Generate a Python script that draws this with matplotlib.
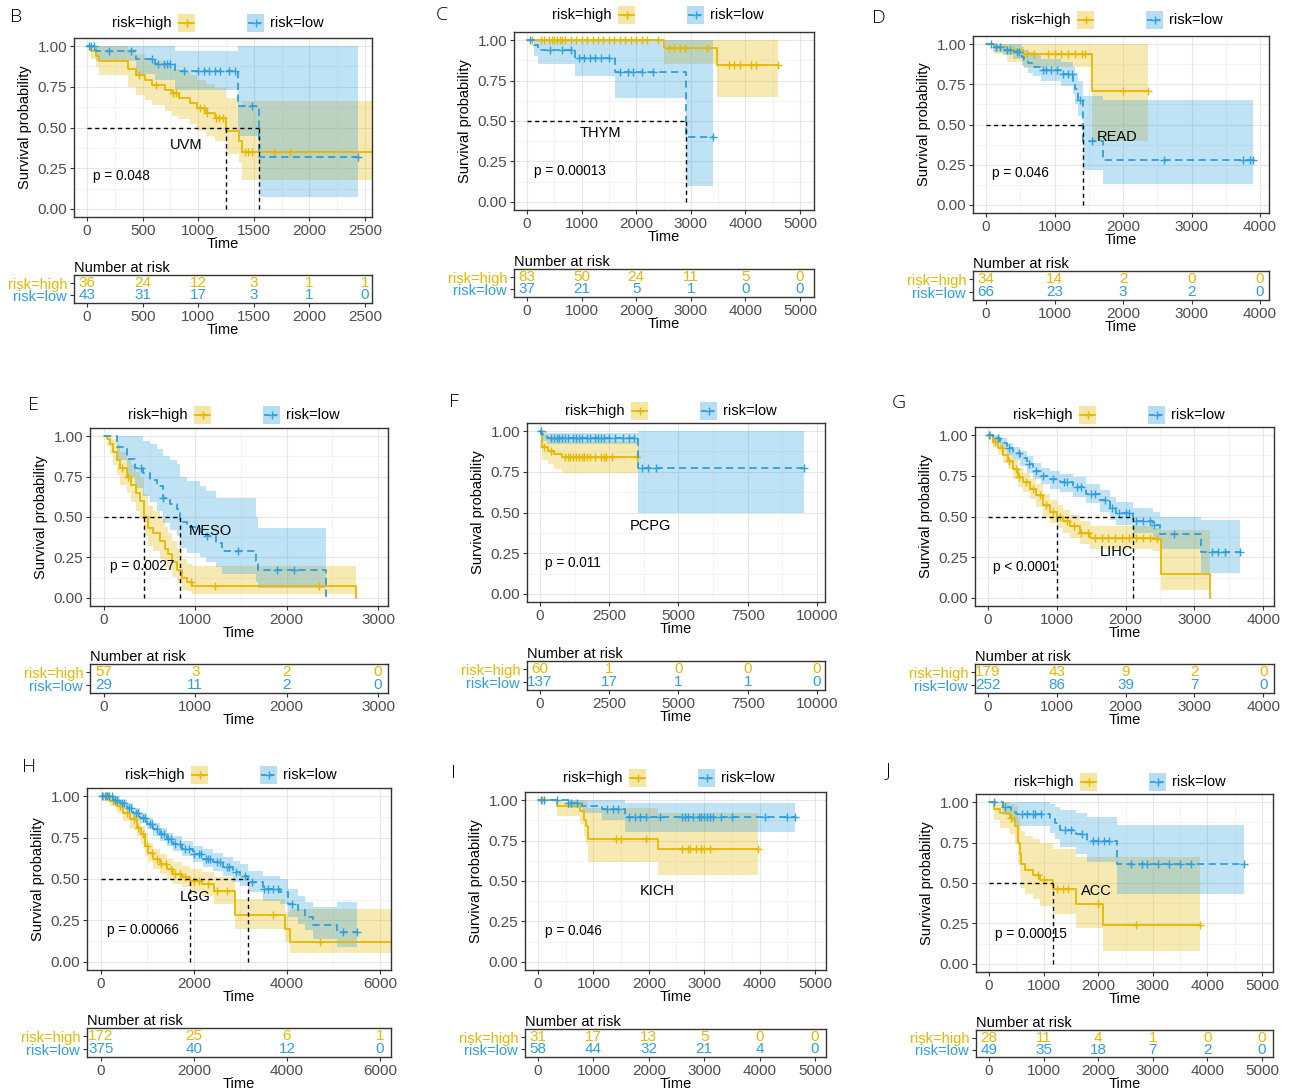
import numpy as np
import matplotlib
matplotlib.use("Agg")
import matplotlib.pyplot as plt
from matplotlib.patches import Rectangle

plt.rcParams['font.family'] = ['Liberation Sans', 'DejaVu Sans']

HIGH = "#E7B800"
LOW = "#2E9FDF"

# ---------------- data ----------------
# B  UVM
B_high_t = [0, 40, 80, 110, 370, 440, 520, 580, 700, 760, 830, 930, 990, 1070, 1150, 1250, 1370, 1390]
B_high_s = [1.0, 0.97, 0.94, 0.91, 0.86, 0.82, 0.79, 0.76, 0.73, 0.71, 0.68, 0.65, 0.62, 0.59, 0.56, 0.48, 0.42, 0.35]
B_high_lo = [1.0, 0.92, 0.87, 0.82, 0.75, 0.70, 0.67, 0.64, 0.60, 0.57, 0.55, 0.52, 0.48, 0.45, 0.42, 0.34, 0.28, 0.18]
B_high_up = [1.0, 1.0, 1.0, 1.0, 0.98, 0.95, 0.93, 0.91, 0.88, 0.86, 0.84, 0.82, 0.79, 0.77, 0.74, 0.68, 0.63, 0.66]
B_high_end = 2600
B_high_cens = [470, 620, 770, 800, 1020, 1050, 1080, 1160, 1190, 1220, 1420, 1450, 1480, 1680, 1830, 2600]
B_low_t = [0, 84, 444, 610, 790, 1360, 1545]
B_low_s = [1.0, 0.97, 0.92, 0.89, 0.845, 0.635, 0.32]
B_low_lo = [1.0, 0.91, 0.83, 0.79, 0.73, 0.45, 0.07]
B_low_up = [1.0, 1.0, 1.0, 1.0, 0.97, 1.0, 1.0]
B_low_end = 2440
B_low_cens = [20, 40, 60, 200, 400, 580, 640, 690, 720, 750, 870, 1000, 1050, 1100, 1150, 1200, 1280, 1330, 1480, 2440]
B_breaks = [0, 500, 1000, 1500, 2000, 2500]
B_risk_high = [36, 24, 12, 3, 1, 1]
B_risk_low = [43, 31, 17, 3, 1, 0]

# C  THYM
C_high_t = [0, 2500, 3475]
C_high_s = [1.0, 0.949, 0.844]
C_high_lo = [1.0, 0.85, 0.65]
C_high_up = [1.0, 1.0, 1.0]
C_high_end = 4600
C_high_cens = [100, 250, 320, 400, 450, 500, 550, 600, 650, 700, 800, 900, 1000, 1100, 1200, 1300, 1400,
               1500, 1600, 1700, 1800, 1900, 2000, 2100, 2200, 2400, 2600, 2700, 2800, 2900, 3300,
               3700, 3800, 3900, 4100, 4200, 4600]
C_low_t = [0, 120, 200, 880, 1615, 2915]
C_low_s = [1.0, 0.97, 0.94, 0.89, 0.805, 0.40]
C_low_lo = [1.0, 0.90, 0.85, 0.78, 0.64, 0.10]
C_low_up = [1.0, 1.0, 1.0, 1.0, 1.0, 1.0]
C_low_end = 3415
C_low_cens = [50, 420, 650, 800, 950, 1050, 1150, 1250, 1350, 1500, 1700, 1850, 1950, 2100, 2300, 3415]
C_breaks = [0, 1000, 2000, 3000, 4000, 5000]
C_risk_high = [83, 50, 24, 11, 5, 0]
C_risk_low = [37, 21, 5, 1, 0, 0]

# D  READ
D_high_t = [0, 110, 300, 545, 1545]
D_high_s = [1.0, 0.98, 0.96, 0.94, 0.707]
D_high_lo = [1.0, 0.94, 0.89, 0.86, 0.40]
D_high_up = [1.0, 1.0, 1.0, 1.0, 1.0]
D_high_end = 2370
D_high_cens = [200, 400, 600, 700, 900, 1000, 1100, 1200, 1300, 1400, 1450, 2000, 2370]
D_low_t = [0, 100, 250, 400, 520, 560, 620, 690, 800, 1100, 1270, 1300, 1340, 1410, 1715]
D_low_s = [1.0, 0.98, 0.965, 0.95, 0.92, 0.90, 0.88, 0.86, 0.84, 0.815, 0.77, 0.72, 0.65, 0.40, 0.28]
D_low_lo = [1.0, 0.95, 0.93, 0.91, 0.87, 0.85, 0.82, 0.80, 0.77, 0.74, 0.69, 0.63, 0.55, 0.22, 0.13]
D_low_up = [1.0, 1.0, 1.0, 1.0, 0.98, 0.96, 0.95, 0.93, 0.91, 0.89, 0.86, 0.82, 0.77, 0.68, 0.65]
D_low_end = 3900
D_low_cens = [80, 150, 200, 300, 350, 450, 480, 830, 880, 950, 1030, 1120, 1200, 1250, 1370, 1540,
              2600, 3750, 3850, 3900]
D_breaks = [0, 1000, 2000, 3000, 4000]
D_risk_high = [34, 14, 2, 0, 0]
D_risk_low = [66, 23, 3, 2, 0]

# E  MESO
E_high_t = [0, 30, 65, 100, 140, 175, 250, 300, 355, 395, 440, 485, 540, 610, 665, 705, 740, 795, 850, 905, 960, 2760]
E_high_s = [1.0, 0.98, 0.95, 0.90, 0.85, 0.80, 0.75, 0.70, 0.65, 0.60, 0.50, 0.43, 0.40, 0.35, 0.30, 0.27,
            0.22, 0.17, 0.12, 0.10, 0.075, 0.0]
E_high_lo = [1.0, 0.94, 0.89, 0.82, 0.76, 0.70, 0.65, 0.59, 0.54, 0.49, 0.38, 0.32, 0.29, 0.24, 0.20, 0.17,
             0.13, 0.09, 0.05, 0.04, 0.025, 0.0]
E_high_up = [1.0, 1.0, 1.0, 0.98, 0.95, 0.90, 0.86, 0.82, 0.78, 0.74, 0.64, 0.57, 0.54, 0.49, 0.44, 0.40,
             0.35, 0.30, 0.24, 0.21, 0.20, 0.0]
E_high_end = 2760
E_high_cens = [200, 260, 950, 1220, 2350]
E_low_t = [0, 140, 250, 340, 430, 500, 580, 650, 720, 795, 830, 905, 1050, 1120, 1230, 1290, 1660, 1690, 2430]
E_low_s = [1.0, 0.93, 0.86, 0.80, 0.77, 0.73, 0.69, 0.62, 0.58, 0.55, 0.47, 0.44, 0.41, 0.38, 0.34, 0.29,
           0.23, 0.17, 0.0]
E_low_lo = [1.0, 0.85, 0.75, 0.68, 0.63, 0.59, 0.54, 0.46, 0.42, 0.38, 0.31, 0.28, 0.25, 0.22, 0.19, 0.15,
            0.10, 0.06, 0.0]
E_low_up = [1.0, 1.0, 1.0, 1.0, 0.97, 0.95, 0.92, 0.88, 0.85, 0.83, 0.75, 0.72, 0.69, 0.66, 0.62, 0.62,
            0.50, 0.43, 0.0]
E_low_end = 2430
E_low_cens = [400, 650, 1130, 1470, 1900, 2080]
E_breaks = [0, 1000, 2000, 3000]
E_risk_high = [57, 3, 2, 0]
E_risk_low = [29, 11, 2, 0]

# F  PCPG
F_high_t = [0, 60, 300, 500, 780]
F_high_s = [1.0, 0.90, 0.88, 0.86, 0.84]
F_high_lo = [1.0, 0.82, 0.80, 0.77, 0.74]
F_high_up = [1.0, 0.98, 0.97, 0.95, 0.94]
F_high_end = 3560
F_high_cens = [150, 400, 900, 1000, 1100, 1200, 1300, 1400, 1500, 1600, 1700, 1800, 2000, 2200, 2300,
               2400, 2600, 3500]
F_low_t = [0, 50, 120, 250, 3520]
F_low_s = [1.0, 0.985, 0.97, 0.958, 0.774]
F_low_lo = [1.0, 0.96, 0.94, 0.92, 0.50]
F_low_up = [1.0, 1.0, 1.0, 0.99, 1.0]
F_low_end = 9520
F_low_cens = [30, 400, 500, 600, 700, 800, 900, 1000, 1200, 1300, 1400, 1500, 1700, 1800, 2000, 2100,
              2200, 2300, 2500, 2700, 3000, 3200, 3400, 3700, 3900, 4200, 9520]
F_breaks = [0, 2500, 5000, 7500, 10000]
F_risk_high = [60, 1, 0, 0, 0]
F_risk_low = [137, 17, 1, 1, 0]

# G  LIHC
G_high_t = [0, 70, 145, 220, 290, 365, 435, 510, 605, 700, 800, 900, 1000, 1090, 1190, 1330, 1480, 2400, 2520, 3225]
G_high_s = [1.0, 0.96, 0.92, 0.88, 0.84, 0.79, 0.74, 0.71, 0.67, 0.63, 0.57, 0.53, 0.50, 0.47, 0.44, 0.40,
            0.37, 0.36, 0.145, 0.0]
G_high_lo = [1.0, 0.93, 0.88, 0.83, 0.79, 0.73, 0.68, 0.65, 0.61, 0.56, 0.50, 0.46, 0.43, 0.40, 0.37, 0.33,
             0.30, 0.29, 0.05, 0.0]
G_high_up = [1.0, 0.99, 0.96, 0.92, 0.89, 0.85, 0.80, 0.77, 0.73, 0.70, 0.64, 0.60, 0.57, 0.54, 0.51, 0.47,
             0.44, 0.43, 0.42, 0.0]
G_high_end = 3225
G_high_cens = [30, 100, 200, 300, 400, 450, 550, 650, 750, 850, 950, 1050, 1150, 1250, 1350, 1450, 1550,
               1650, 1750, 1850, 1950, 2050, 2150, 2250, 2350, 2450]
G_low_t = [0, 70, 170, 270, 365, 460, 560, 655, 775, 900, 1040, 1235, 1430, 1625, 1770, 1865, 2110, 2400, 2500, 3100]
G_low_s = [1.0, 0.98, 0.95, 0.92, 0.89, 0.86, 0.82, 0.78, 0.75, 0.73, 0.71, 0.68, 0.64, 0.60, 0.55, 0.52,
           0.47, 0.45, 0.39, 0.28]
G_low_lo = [1.0, 0.96, 0.92, 0.88, 0.85, 0.81, 0.77, 0.73, 0.70, 0.67, 0.65, 0.62, 0.58, 0.53, 0.48, 0.45,
            0.40, 0.37, 0.30, 0.15]
G_low_up = [1.0, 1.0, 0.98, 0.95, 0.93, 0.90, 0.87, 0.83, 0.80, 0.78, 0.76, 0.74, 0.70, 0.66, 0.62, 0.59,
            0.55, 0.53, 0.50, 0.48]
G_low_end = 3660
G_low_cens = [20, 150, 300, 450, 600, 700, 800, 950, 1100, 1150, 1300, 1350, 1500, 1550, 1700, 1800, 1900,
              2000, 2050, 2150, 2250, 2350, 2420, 2700, 3250, 3350, 3450, 3660]
G_breaks = [0, 1000, 2000, 3000, 4000]
G_risk_high = [179, 43, 9, 2, 0]
G_risk_low = [252, 86, 39, 7, 0]

# H  LGG
H_high_t = [0, 190, 340, 480, 620, 770, 870, 950, 1020, 1125, 1270, 1410, 1555, 1735, 1910, 2165, 2420, 2880, 3960, 4070]
H_high_s = [1.0, 0.97, 0.94, 0.90, 0.86, 0.81, 0.77, 0.70, 0.66, 0.62, 0.59, 0.56, 0.53, 0.51, 0.49, 0.47,
            0.43, 0.285, 0.20, 0.12]
H_high_lo = [1.0, 0.94, 0.90, 0.85, 0.81, 0.76, 0.71, 0.64, 0.60, 0.56, 0.53, 0.50, 0.47, 0.45, 0.42, 0.40,
             0.35, 0.20, 0.12, 0.05]
H_high_up = [1.0, 0.99, 0.97, 0.94, 0.90, 0.86, 0.82, 0.76, 0.72, 0.68, 0.65, 0.62, 0.60, 0.58, 0.56, 0.54,
             0.51, 0.38, 0.30, 0.32]
H_high_end = 6400
H_high_cens = [50, 100, 150, 250, 300, 400, 550, 700, 800, 900, 1000, 1100, 1200, 1300, 1400, 1500, 1600,
               1700, 1800, 2000, 2100, 2300, 2500, 2700, 3700, 4700, 6400]
H_low_t = [0, 265, 410, 550, 695, 840, 980, 1125, 1270, 1410, 1555, 1735, 1985, 2200, 2415, 2630, 2845,
           2990, 3170, 3490, 3850, 4030, 4245, 4390, 4565, 5070]
H_low_s = [1.0, 0.98, 0.96, 0.93, 0.90, 0.87, 0.83, 0.80, 0.77, 0.74, 0.71, 0.68, 0.65, 0.62, 0.60, 0.57,
           0.54, 0.52, 0.48, 0.44, 0.42, 0.35, 0.31, 0.27, 0.22, 0.18]
H_low_lo = [1.0, 0.96, 0.94, 0.91, 0.87, 0.84, 0.80, 0.76, 0.73, 0.70, 0.67, 0.64, 0.60, 0.57, 0.55, 0.52,
            0.48, 0.46, 0.42, 0.37, 0.35, 0.27, 0.23, 0.19, 0.14, 0.09]
H_low_up = [1.0, 1.0, 0.98, 0.96, 0.93, 0.90, 0.87, 0.84, 0.81, 0.78, 0.76, 0.73, 0.70, 0.68, 0.66, 0.63,
            0.61, 0.59, 0.55, 0.52, 0.50, 0.44, 0.40, 0.36, 0.33, 0.36]
H_low_end = 5500
H_low_cens = [30, 80, 130, 180, 230, 300, 350, 450, 500, 600, 650, 750, 800, 900, 950, 1050, 1100, 1200,
              1300, 1350, 1450, 1500, 1600, 1700, 1800, 1900, 2000, 2100, 2150, 2250, 2300, 2350, 2500,
              2550, 2700, 2750, 2900, 3100, 3250, 3500, 3600, 3700, 3800, 4100, 5200, 5500]
H_breaks = [0, 2000, 4000, 6000]
H_risk_high = [172, 25, 6, 1]
H_risk_low = [375, 40, 12, 0]

# I  KICH
I_high_t = [0, 340, 760, 830, 870, 910, 2165]
I_high_s = [1.0, 0.965, 0.93, 0.88, 0.84, 0.76, 0.70]
I_high_lo = [1.0, 0.90, 0.85, 0.78, 0.73, 0.62, 0.54]
I_high_up = [1.0, 1.0, 1.0, 1.0, 0.99, 0.95, 0.92]
I_high_end = 3980
I_high_cens = [80, 1400, 1500, 1950, 2600, 2700, 2750, 2850, 2950, 3000, 3100, 3980]
I_low_t = [0, 550, 800, 1150, 1575]
I_low_s = [1.0, 0.983, 0.965, 0.945, 0.898]
I_low_lo = [1.0, 0.95, 0.92, 0.88, 0.805]
I_low_up = [1.0, 1.0, 1.0, 1.0, 0.98]
I_low_end = 4640
I_low_cens = [60, 100, 350, 550, 600, 700, 1250, 1350, 1450, 1650, 1750, 1850, 1950, 2200, 2600, 2650,
              2700, 2800, 2900, 2950, 3000, 3050, 3100, 3150, 3300, 3500, 4100, 4500, 4640]
I_breaks = [0, 1000, 2000, 3000, 4000, 5000]
I_risk_high = [31, 17, 13, 5, 0, 0]
I_risk_low = [58, 44, 32, 21, 4, 0]

# J  ACC
J_high_t = [0, 100, 200, 380, 470, 530, 565, 595, 655, 810, 930, 1180, 1600, 2080]
J_high_s = [1.0, 0.96, 0.93, 0.90, 0.85, 0.75, 0.68, 0.62, 0.58, 0.55, 0.52, 0.46, 0.37, 0.24]
J_high_lo = [1.0, 0.89, 0.84, 0.80, 0.74, 0.62, 0.54, 0.47, 0.43, 0.40, 0.36, 0.31, 0.22, 0.08]
J_high_up = [1.0, 1.0, 1.0, 0.99, 0.97, 0.91, 0.86, 0.82, 0.79, 0.77, 0.75, 0.71, 0.66, 0.66]
J_high_end = 3870
J_high_cens = [400, 900, 1000, 1250, 1350, 1450, 2000, 2700, 3870]
J_low_t = [0, 250, 410, 500, 1110, 1200, 1300, 1600, 1790, 2340]
J_low_s = [1.0, 0.97, 0.94, 0.925, 0.90, 0.87, 0.83, 0.80, 0.76, 0.62]
J_low_lo = [1.0, 0.92, 0.88, 0.85, 0.81, 0.77, 0.72, 0.68, 0.63, 0.43]
J_low_up = [1.0, 1.0, 1.0, 1.0, 0.99, 0.97, 0.95, 0.93, 0.91, 0.86]
J_low_end = 4665
J_low_cens = [100, 300, 600, 700, 800, 850, 950, 1400, 1500, 1700, 1900, 2000, 2100, 2200, 2600, 2800,
              2900, 3100, 3300, 3500, 3700, 4665]
J_breaks = [0, 1000, 2000, 3000, 4000, 5000]
J_risk_high = [28, 11, 4, 1, 0, 0]
J_risk_low = [49, 35, 18, 7, 2, 0]

letters = ["B", "C", "D", "E", "F", "G", "H", "I", "J"]
cancers = ["UVM", "THYM", "READ", "MESO", "PCPG", "LIHC", "LGG", "KICH", "ACC"]
pvalues = ["p = 0.048", "p = 0.00013", "p = 0.046", "p = 0.0027", "p = 0.011",
           "p < 0.0001", "p = 0.00066", "p = 0.046", "p = 0.00015"]

# ---------------- layout (pixels) ----------------
W, H = 1294, 1092
layout = {
    # main box, risk box, xlim, letter xy, legend y, cancer label xy (data), p xy (data)
    "B": dict(main=(74, 38, 372, 217), risk=(74, 275, 372, 303), xlim=(-117, 2563), let=(10, 17), leg=23,
              name=(894, 0.39), p=(54, 0.20)),
    "C": dict(main=(514, 32, 814, 210), risk=(514, 269, 814, 297), xlim=(-238, 5256), let=(436, 15), leg=15,
              name=(1340, 0.424), p=(122, 0.19)),
    "D": dict(main=(973, 36, 1269, 213), risk=(973, 271, 1269, 300), xlim=(-190, 4131), let=(872, 18), leg=20,
              name=(1907, 0.42), p=(83, 0.196)),
    "E": dict(main=(90, 428, 388, 606), risk=(90, 664, 388, 693), xlim=(-153, 3110), let=(28, 405), leg=415,
              name=(1159, 0.416), p=(66, 0.197)),
    "F": dict(main=(527, 423, 825, 602), risk=(527, 661, 825, 690), xlim=(-470, 10290), let=(449, 402), leg=411,
              name=(3977, 0.418), p=(181, 0.19)),
    "G": dict(main=(975, 427, 1274, 606), risk=(975, 664, 1274, 693), xlim=(-189, 4157), let=(892, 403), leg=415,
              name=(1866, 0.279), p=(73, 0.19)),
    "H": dict(main=(87, 788, 391, 970), risk=(87, 1028, 391, 1057), xlim=(-301, 6237), let=(22, 767), leg=775,
              name=(2021, 0.39), p=(136, 0.19)),
    "I": dict(main=(525, 792, 826, 970), risk=(525, 1029, 826, 1057), xlim=(-235, 5199), let=(451, 773), leg=778,
              name=(2146, 0.44), p=(120, 0.194)),
    "J": dict(main=(976, 794, 1273, 972), risk=(976, 1030, 1273, 1057), xlim=(-238, 5201), let=(886, 770), leg=782,
              name=(1970, 0.45), p=(104, 0.186)),
}

fig = plt.figure(figsize=(W / 100, H / 100), dpi=100)


def px_axes(box):
    x0, y0, x1, y1 = box
    return fig.add_axes([x0 / W, 1 - y1 / H, (x1 - x0) / W, (y1 - y0) / H])


def draw_band(ax, t, lo, up, end, color):
    xs = list(t) + [end]
    ax.fill_between(xs, list(lo) + [lo[-1]], list(up) + [up[-1]], step='post',
                    color=color, alpha=0.3, lw=0)


def draw_curve(ax, t, s, end, cens, color, ls):
    xs = list(t) + [end]
    ys = list(s) + [s[-1]]
    ax.step(xs, ys, where='post', color=color, lw=1.3, ls=ls, dashes=(4, 2.5) if ls == '--' else (None, None))
    idx = np.searchsorted(t, cens, side='right') - 1
    ax.plot(cens, np.array(s)[idx], ls='none', marker='+', ms=6, mew=1.0, color=color)


def median(t, s):
    for ti, si in zip(t, s):
        if si <= 0.5:
            return ti
    return None


def legend_key(x, y, color, dashed):
    k = fig.add_axes([x / W, 1 - (y + 9) / H, 17 / W, 18 / H])
    k.set_xlim(0, 1)
    k.set_ylim(0, 1)
    k.axis('off')
    k.add_patch(Rectangle((0, 0), 1, 1, color=color, alpha=0.35, lw=0))
    k.plot([0.05, 0.95], [0.5, 0.5], color=color, lw=1.3, ls='--' if dashed else '-',
           dashes=(3, 1.5) if dashed else (None, None))
    k.plot([0.5], [0.5], marker='+', ms=6, mew=1, color=color)


for i, L in enumerate(letters):
    g = globals()
    cfg = layout[L]
    ht, hs, hlo, hup = g[L + "_high_t"], g[L + "_high_s"], g[L + "_high_lo"], g[L + "_high_up"]
    lt, ls_, llo, lup = g[L + "_low_t"], g[L + "_low_s"], g[L + "_low_lo"], g[L + "_low_up"]
    breaks = g[L + "_breaks"]

    ax = px_axes(cfg["main"])
    ax.set_xlim(*cfg["xlim"])
    ax.set_ylim(-0.05, 1.05)
    ax.set_axisbelow(True)
    draw_band(ax, ht, hlo, hup, g[L + "_high_end"], HIGH)
    draw_band(ax, lt, llo, lup, g[L + "_low_end"], LOW)
    draw_curve(ax, ht, hs, g[L + "_high_end"], g[L + "_high_cens"], HIGH, '-')
    draw_curve(ax, lt, ls_, g[L + "_low_end"], g[L + "_low_cens"], LOW, '--')

    meds = [m for m in (median(ht, hs), median(lt, ls_)) if m is not None]
    if meds:
        ax.plot([0, max(meds)], [0.5, 0.5], color='black', lw=1, ls='--', dashes=(3, 2.5))
        for m in meds:
            ax.plot([m, m], [0, 0.5], color='black', lw=1, ls='--', dashes=(3, 2.5))

    ax.set_xticks(breaks)
    ax.set_xticks([(a + b) / 2 for a, b in zip(breaks[:-1], breaks[1:])], minor=True)
    ax.set_yticks([0, 0.25, 0.5, 0.75, 1.0])
    ax.set_yticklabels(["0.00", "0.25", "0.50", "0.75", "1.00"])
    ax.set_yticks([0.125, 0.375, 0.625, 0.875], minor=True)
    ax.grid(which='major', color='#E6E6E6', lw=0.8)
    ax.grid(which='minor', color='#EFEFEF', lw=0.5)
    ax.tick_params(which='major', length=3, width=0.8, color='#333333', labelcolor='#4D4D4D',
                   labelsize=11, pad=2)
    ax.tick_params(which='minor', length=0)
    for sp in ax.spines.values():
        sp.set_color('#333333')
        sp.set_linewidth(1.0)
    ax.set_xlabel("Time", fontsize=10.5, labelpad=-1)
    ax.set_ylabel("Survival probability", fontsize=10.5, labelpad=4)
    ax.text(cfg["name"][0], cfg["name"][1], cancers[i], fontsize=10.5, ha='center', va='center')
    ax.text(cfg["p"][0], cfg["p"][1], pvalues[i], fontsize=9.8, ha='left', va='center')

    # risk table
    rx = px_axes(cfg["risk"])
    rx.set_xlim(*cfg["xlim"])
    rx.set_ylim(0, 1)
    for b, nh, nl in zip(breaks, g[L + "_risk_high"], g[L + "_risk_low"]):
        rx.text(b, 0.71, str(nh), color=HIGH, ha='center', va='center', fontsize=11)
        rx.text(b, 0.27, str(nl), color=LOW, ha='center', va='center', fontsize=11)
    rx.set_xticks(breaks)
    rx.set_yticks([0.27, 0.71])
    rx.set_yticklabels(["risk=low", "risk=high"])
    for lab, c in zip(rx.get_yticklabels(), [LOW, HIGH]):
        lab.set_color(c)
    rx.tick_params(axis='y', length=3, width=0.8, color='#333333', labelsize=10.5, pad=2)
    rx.tick_params(axis='x', length=3, width=0.8, color='#333333', labelcolor='#4D4D4D',
                   labelsize=11, pad=2)
    for sp in rx.spines.values():
        sp.set_color('#333333')
        sp.set_linewidth(1.0)
    rx.set_xlabel("Time", fontsize=10.5, labelpad=-1)
    rx.set_title("Number at risk", loc='left', fontsize=10.5, pad=1)

    # legend
    x0 = cfg["main"][0]
    ly = cfg["leg"]
    fig.text((x0 + 38) / W, 1 - ly / H, "risk=high", fontsize=10.5, ha='left', va='center')
    legend_key(x0 + 104, ly, HIGH, False)
    legend_key(x0 + 173, ly, LOW, True)
    fig.text((x0 + 196) / W, 1 - ly / H, "risk=low", fontsize=10.5, ha='left', va='center')

    # panel letter
    fig.text(cfg["let"][0] / W, 1 - cfg["let"][1] / H, L, fontsize=14, ha='left', va='center',
             family=['Open Sans', 'DejaVu Sans'], fontweight='light')

fig.savefig("out.png", dpi=100, facecolor='white')
